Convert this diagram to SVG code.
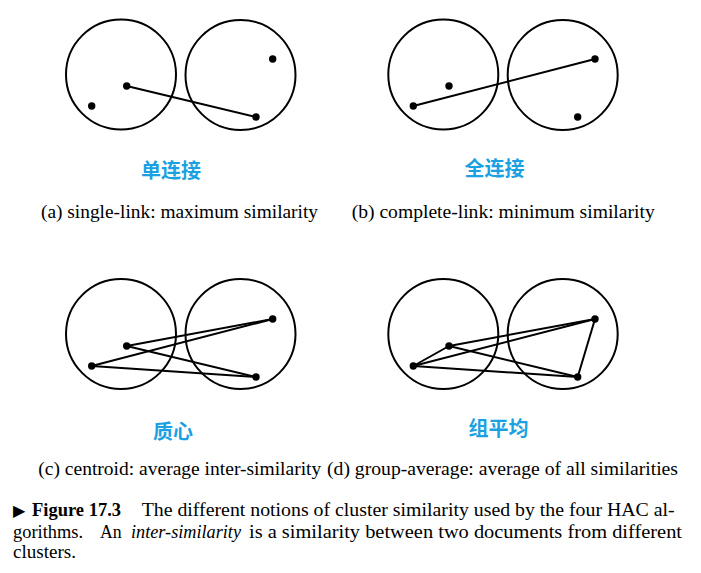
<svg xmlns="http://www.w3.org/2000/svg" width="701" height="573" viewBox="0 0 701 573">
<style>
.c{fill:none;stroke:#000;stroke-width:2}
.l{stroke:#000;stroke-width:2;stroke-linecap:round}
.d{fill:#000}
.zh{font-family:"Noto Sans CJK SC",sans-serif;font-weight:bold;font-size:20px;fill:#1ba1e2;text-anchor:middle}
.cap{font-family:"Liberation Serif",serif;font-size:19px;fill:#000}
</style>
<rect width="701" height="573" fill="#fff"/>
<g id="panel-a">
<circle class="c" cx="121" cy="74.5" r="55"/>
<circle class="c" cx="240.5" cy="75" r="55"/>
</g>
<g id="panel-b">
<circle class="c" cx="443.3" cy="74.5" r="55"/>
<circle class="c" cx="562.7" cy="75" r="55"/>
</g>
<g id="panel-c">
<circle class="c" cx="121" cy="334" r="55"/>
<circle class="c" cx="240.5" cy="334" r="55"/>
</g>
<g id="panel-d">
<circle class="c" cx="443.3" cy="334" r="55"/>
<circle class="c" cx="562.7" cy="334" r="55"/>
</g>
<g id="connectors">
<line class="l" x1="126.7" y1="86" x2="256" y2="117"/>
<line class="l" x1="413.3" y1="106" x2="595" y2="59"/>
<line class="l" x1="126.7" y1="346" x2="272.7" y2="319"/>
<line class="l" x1="91.7" y1="366" x2="272.7" y2="319"/>
<line class="l" x1="126.7" y1="346" x2="256" y2="377"/>
<line class="l" x1="91.7" y1="366" x2="256" y2="377"/>
<line class="l" x1="449" y1="346" x2="413.3" y2="366"/>
<line class="l" x1="449" y1="346" x2="595" y2="319"/>
<line class="l" x1="413.3" y1="366" x2="595" y2="319"/>
<line class="l" x1="449" y1="346" x2="577.7" y2="377"/>
<line class="l" x1="413.3" y1="366" x2="577.7" y2="377"/>
<line class="l" x1="595" y1="319" x2="577.7" y2="377"/>
</g>
<g id="points">
<circle class="d" cx="126.7" cy="86" r="3.7"/>
<circle class="d" cx="91.7" cy="106" r="3.7"/>
<circle class="d" cx="272.7" cy="59" r="3.7"/>
<circle class="d" cx="256" cy="117" r="3.7"/>
<circle class="d" cx="449" cy="86" r="3.7"/>
<circle class="d" cx="413.3" cy="106" r="3.7"/>
<circle class="d" cx="595" cy="59" r="3.7"/>
<circle class="d" cx="577.7" cy="117" r="3.7"/>
<circle class="d" cx="126.7" cy="346" r="3.7"/>
<circle class="d" cx="91.7" cy="366" r="3.7"/>
<circle class="d" cx="272.7" cy="319" r="3.7"/>
<circle class="d" cx="256" cy="377" r="3.7"/>
<circle class="d" cx="449" cy="346" r="3.7"/>
<circle class="d" cx="413.3" cy="366" r="3.7"/>
<circle class="d" cx="595" cy="319" r="3.7"/>
<circle class="d" cx="577.7" cy="377" r="3.7"/>
</g>
<g id="labels">
<text class="zh" x="171" y="178">单连接</text>
<text class="zh" x="494.5" y="176">全连接</text>
<text class="zh" x="173" y="439">质心</text>
<text class="zh" x="498.5" y="436">组平均</text>
<text class="cap" x="41" y="218" textLength="277" lengthAdjust="spacingAndGlyphs">(a) single-link: maximum similarity</text>
<text class="cap" x="351.7" y="218" textLength="303" lengthAdjust="spacingAndGlyphs">(b) complete-link: minimum similarity</text>
<text class="cap" x="38.3" y="475" textLength="283" lengthAdjust="spacingAndGlyphs">(c) centroid: average inter-similarity</text>
<text class="cap" x="327" y="475" textLength="351" lengthAdjust="spacingAndGlyphs">(d) group-average: average of all similarities</text>
</g>
<g id="caption" class="cap">
<text y="516"><tspan x="13" font-size="16">▶</tspan><tspan x="32" font-weight="bold" textLength="89" lengthAdjust="spacingAndGlyphs">Figure 17.3</tspan><tspan x="141.7" textLength="533" lengthAdjust="spacingAndGlyphs">The different notions of cluster similarity used by the four HAC al-</tspan></text>
<text y="537.7"><tspan x="13" textLength="70" lengthAdjust="spacingAndGlyphs">gorithms.</tspan><tspan x="100" textLength="21.7" lengthAdjust="spacingAndGlyphs">An</tspan><tspan x="131" font-style="italic" textLength="110" lengthAdjust="spacingAndGlyphs">inter-similarity</tspan><tspan x="249" textLength="433" lengthAdjust="spacingAndGlyphs">is a similarity between two documents from different</tspan></text>
<text x="13" y="558" textLength="63" lengthAdjust="spacingAndGlyphs">clusters.</text>
</g>
</svg>
